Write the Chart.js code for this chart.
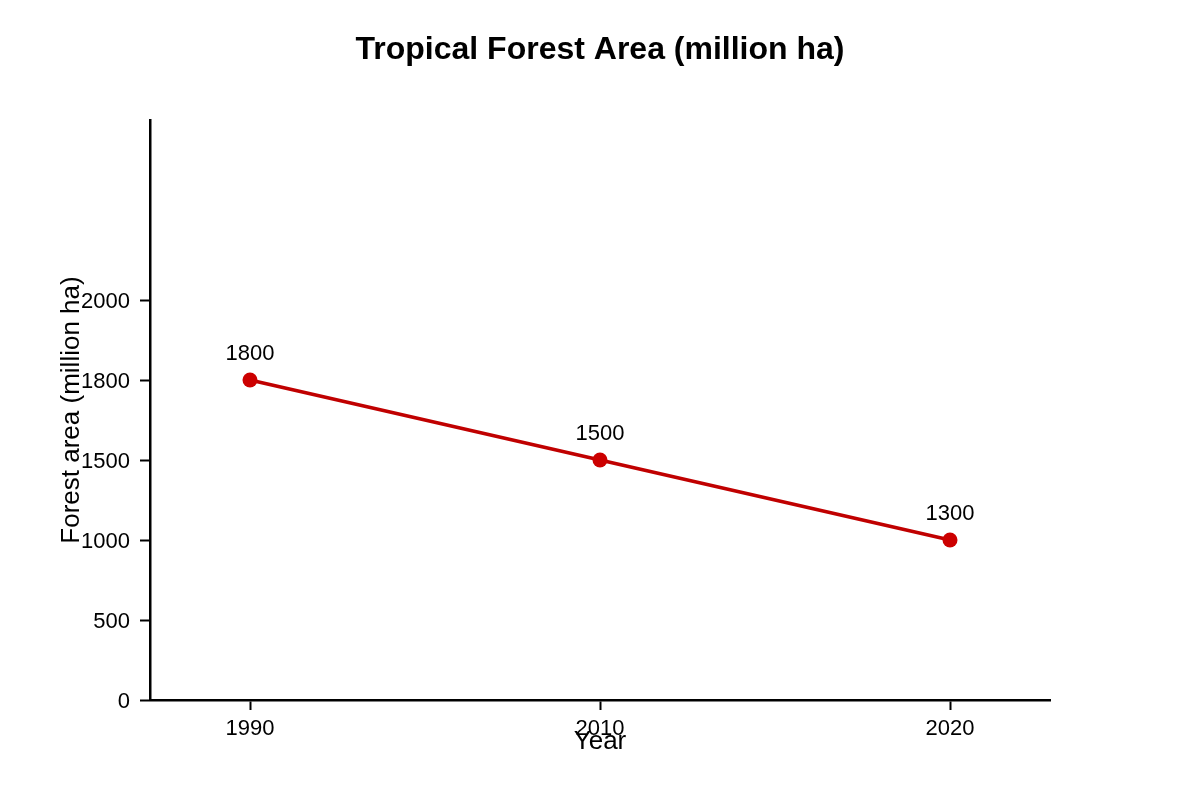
<!DOCTYPE html>
<html lang="en">
<head>
    <meta charset="UTF-8">
    <title>Tropical Forest Area</title>
    <script src="https://cdn.jsdelivr.net/npm/chart.js@4.4.0/dist/chart.umd.min.js"></script>
    <style>
        body { margin: 0; background: #fff; }
        #chart { display: block; }
    </style>
</head>
<body>
    <canvas id="chart" width="1200" height="800"></canvas>

    <script>
        // data
        const years = ['1990', '2010', '2020'];
        const yTickLabels = ['0', '500', '1000', '1500', '1800', '2000'];
        // level each point sits at, measured against the y tick labels
        const plottedLevels = ['1800', '1500', '1000'];
        // numbers written above the points
        const pointLabels = [1800, 1500, 1300];

        const font = 'Liberation Sans, Arial, sans-serif';

        // the axes are evenly spaced, so points go on tick index positions
        const points = plottedLevels.map((lvl, i) => ({ x: i, y: yTickLabels.indexOf(lvl) }));

        // title, axis titles + point labels, drawn over the ticks like the original
        const extras = {
            id: 'extras',
            afterDatasetsDraw(chart) {
                const ctx = chart.ctx;
                const area = chart.chartArea;
                ctx.save();
                ctx.fillStyle = '#000';
                ctx.textAlign = 'center';
                ctx.textBaseline = 'middle';

                ctx.font = 'bold 32px ' + font;
                ctx.fillText('Tropical Forest Area (million ha)', chart.width / 2, 50);

                ctx.font = '22px ' + font;
                const meta = chart.getDatasetMeta(0);
                meta.data.forEach((pt, i) => {
                    ctx.fillText(String(pointLabels[i]), pt.x, pt.y - 26);
                });

                ctx.font = '26px ' + font;
                ctx.fillText('Year', (area.left + area.right) / 2, 742);

                ctx.translate(72, (area.top + area.bottom) / 2);
                ctx.rotate(-Math.PI / 2);
                ctx.fillText('Forest area (million ha)', 0, 0);
                ctx.restore();
            }
        };

        const axisGrid = {
            display: true,
            drawOnChartArea: false,
            drawTicks: true,
            tickLength: 10,
            tickWidth: 2,
            tickColor: '#000'
        };

        new Chart(document.getElementById('chart'), {
            type: 'line',
            data: {
                datasets: [{
                    data: points,
                    borderColor: '#c00000',
                    backgroundColor: '#cc0000',
                    borderWidth: 3.5,
                    pointRadius: 7.5,
                    pointHoverRadius: 7.5,
                    pointBorderWidth: 0,
                    tension: 0
                }]
            },
            options: {
                responsive: false,
                animation: false,
                layout: { padding: { left: 0, right: 150, top: 120, bottom: 0 } },
                plugins: {
                    legend: { display: false },
                    tooltip: { enabled: false },
                    title: { display: false }
                },
                scales: {
                    x: {
                        type: 'linear',
                        min: -2 / 7,
                        max: 2 + 2 / 7,
                        afterFit(scale) { scale.height = 100; },
                        afterBuildTicks(scale) {
                            scale.ticks = years.map((y, i) => ({ value: i }));
                        },
                        ticks: {
                            autoSkip: false,
                            maxRotation: 0,
                            color: '#000',
                            font: { family: font, size: 22 },
                            padding: 6,
                            callback: (v) => years[v]
                        },
                        grid: axisGrid,
                        border: { display: true, color: '#000', width: 2.5 }
                    },
                    y: {
                        type: 'linear',
                        min: 0,
                        max: 7.25,
                        afterFit(scale) { scale.width = 150; },
                        afterBuildTicks(scale) {
                            scale.ticks = yTickLabels.map((t, i) => ({ value: i }));
                        },
                        ticks: {
                            autoSkip: false,
                            color: '#000',
                            font: { family: font, size: 22 },
                            padding: 10,
                            labelOffset: 2,
                            callback: (v) => yTickLabels[v]
                        },
                        grid: axisGrid,
                        border: { display: true, color: '#000', width: 2.5 }
                    }
                }
            },
            plugins: [extras]
        });
    </script>
</body>
</html>
